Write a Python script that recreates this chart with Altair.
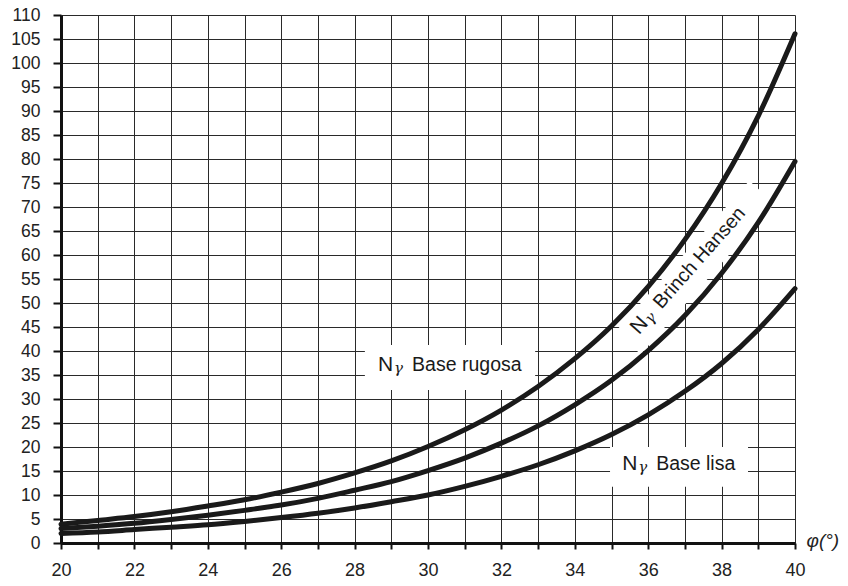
import altair as alt
import pandas as pd

# --- data ---
phi = list(range(20, 41))
n_rugosa = [3.9, 4.7, 5.5, 6.5, 7.7, 9.0, 10.6, 12.4, 14.6, 17.1, 20.1,
            23.6, 27.7, 32.6, 38.4, 45.2, 53.4, 63.2, 74.9, 89.0, 106.1]
n_hansen = [3.0, 3.5, 4.1, 4.9, 5.8, 6.8, 7.9, 9.3, 11.0, 12.8, 15.1,
            17.7, 20.8, 24.4, 28.8, 33.9, 40.1, 47.4, 56.2, 66.8, 79.5]
n_lisa = [2.0, 2.3, 2.8, 3.3, 3.8, 4.5, 5.3, 6.2, 7.3, 8.6, 10.0,
          11.8, 13.9, 16.3, 19.2, 22.6, 26.7, 31.6, 37.4, 44.5, 53.0]

x_ticks = list(range(20, 41))
y_ticks = list(range(0, 111, 5))

# annotation labels (data coordinates)
label_keys = ["rugosa", "lisa", "hansen"]
label_text = ["Base rugosa", "Base lisa", "Brinch Hansen"]
label_x = [28.64, 35.29, 35.75]
label_y = [35.83, 15.2, 43.3]
label_angle = [0, 0, 311.5]

# white boxes behind the horizontal labels
box_x = [28.28, 34.96]
box_x2 = [32.92, 38.72]
box_y = [31.9, 11.7]
box_y2 = [41.25, 20.0]

# white band behind the rotated label
band_x = [35.45, 39.10]
band_y = [41.67, 73.1]

FONT = "Liberation Sans"

curves = pd.DataFrame({
    "x": phi * 3,
    "y": n_rugosa + n_hansen + n_lisa,
    "serie": ["rugosa"] * len(phi) + ["hansen"] * len(phi) + ["lisa"] * len(phi),
})
labels = pd.DataFrame({"key": label_keys, "text": label_text, "x": label_x,
                       "y": label_y, "angle": label_angle, "N": ["N"] * 3,
                       "g": ["γ"] * 3})
boxes = pd.DataFrame({"x": box_x, "x2": box_x2, "y": box_y, "y2": box_y2})
band = pd.DataFrame({"x": band_x, "y": band_y})

x_axis = alt.Axis(
    values=x_ticks, labelExpr="datum.value % 2 == 0 ? datum.label : ''",
    grid=True, gridColor="#2a2a2a", gridWidth=1,
    domainColor="#111111", domainWidth=3,
    tickColor="#111111", tickSize=6, tickWidth=2,
    labelFont=FONT, labelFontSize=18, labelColor="#222222", labelPadding=12,
    labelFlush=False, labelOverlap=False,
    title="φ(°)", titleFont=FONT, titleFontSize=19, titleFontWeight="normal",
    titleFontStyle="italic", titleColor="#222222",
    titleX=745, titleY=-3, titleAlign="left", titleBaseline="middle", titleAngle=0,
)
y_axis = alt.Axis(
    values=y_ticks, grid=True, gridColor="#2a2a2a", gridWidth=1,
    domainColor="#111111", domainWidth=3,
    tickColor="#111111", tickSize=8, tickWidth=2,
    labelFont=FONT, labelFontSize=17.5, labelColor="#222222", labelPadding=13,
    labelFlush=False, labelOverlap=False, title=None,
)
xs = alt.Scale(domain=[20, 40], nice=False)
ys = alt.Scale(domain=[0, 110], nice=False)


def X():
    return alt.X("x:Q", scale=xs, axis=x_axis)


def Y():
    return alt.Y("y:Q", scale=ys, axis=y_axis)


box_layer = alt.Chart(boxes).mark_rect(color="white").encode(
    x=X(), x2="x2:Q", y=Y(), y2="y2:Q")

band_layer = alt.Chart(band).mark_line(color="white", strokeWidth=34,
                                       strokeCap="butt").encode(x=X(), y=Y())

curve_layer = alt.Chart(curves).mark_line(
    color="#1a1a1a", strokeWidth=5, interpolate="monotone", strokeCap="round"
).encode(x=X(), y=Y(), detail="serie:N")

ang = alt.Angle("angle:Q", scale=None)
n_layer = alt.Chart(labels).mark_text(
    font=FONT, fontSize=21, color="#1a1a1a", align="left", baseline="alphabetic"
).encode(x=X(), y=Y(), text="N:N", angle=ang)
g_layer = alt.Chart(labels).mark_text(
    font="DejaVu Serif", fontSize=15, fontStyle="italic", color="#1a1a1a",
    align="left", baseline="alphabetic", dx=16, dy=2
).encode(x=X(), y=Y(), text="g:N", angle=ang)
t_layer = alt.Chart(labels).mark_text(
    font=FONT, fontSize=19.5, color="#1a1a1a", align="left", baseline="alphabetic", dx=34
).encode(x=X(), y=Y(), text="text:N", angle=ang)

chart = alt.layer(
    box_layer, band_layer, curve_layer, n_layer, g_layer, t_layer
).properties(
    width=734, height=528,
    autosize=alt.AutoSizeParams(type="none"),
    padding={"left": 53, "top": 7, "right": 45, "bottom": 35},
    background="white",
).configure_view(strokeWidth=0)

chart.save("out.html", embed_options={"renderer": "svg", "actions": False})
